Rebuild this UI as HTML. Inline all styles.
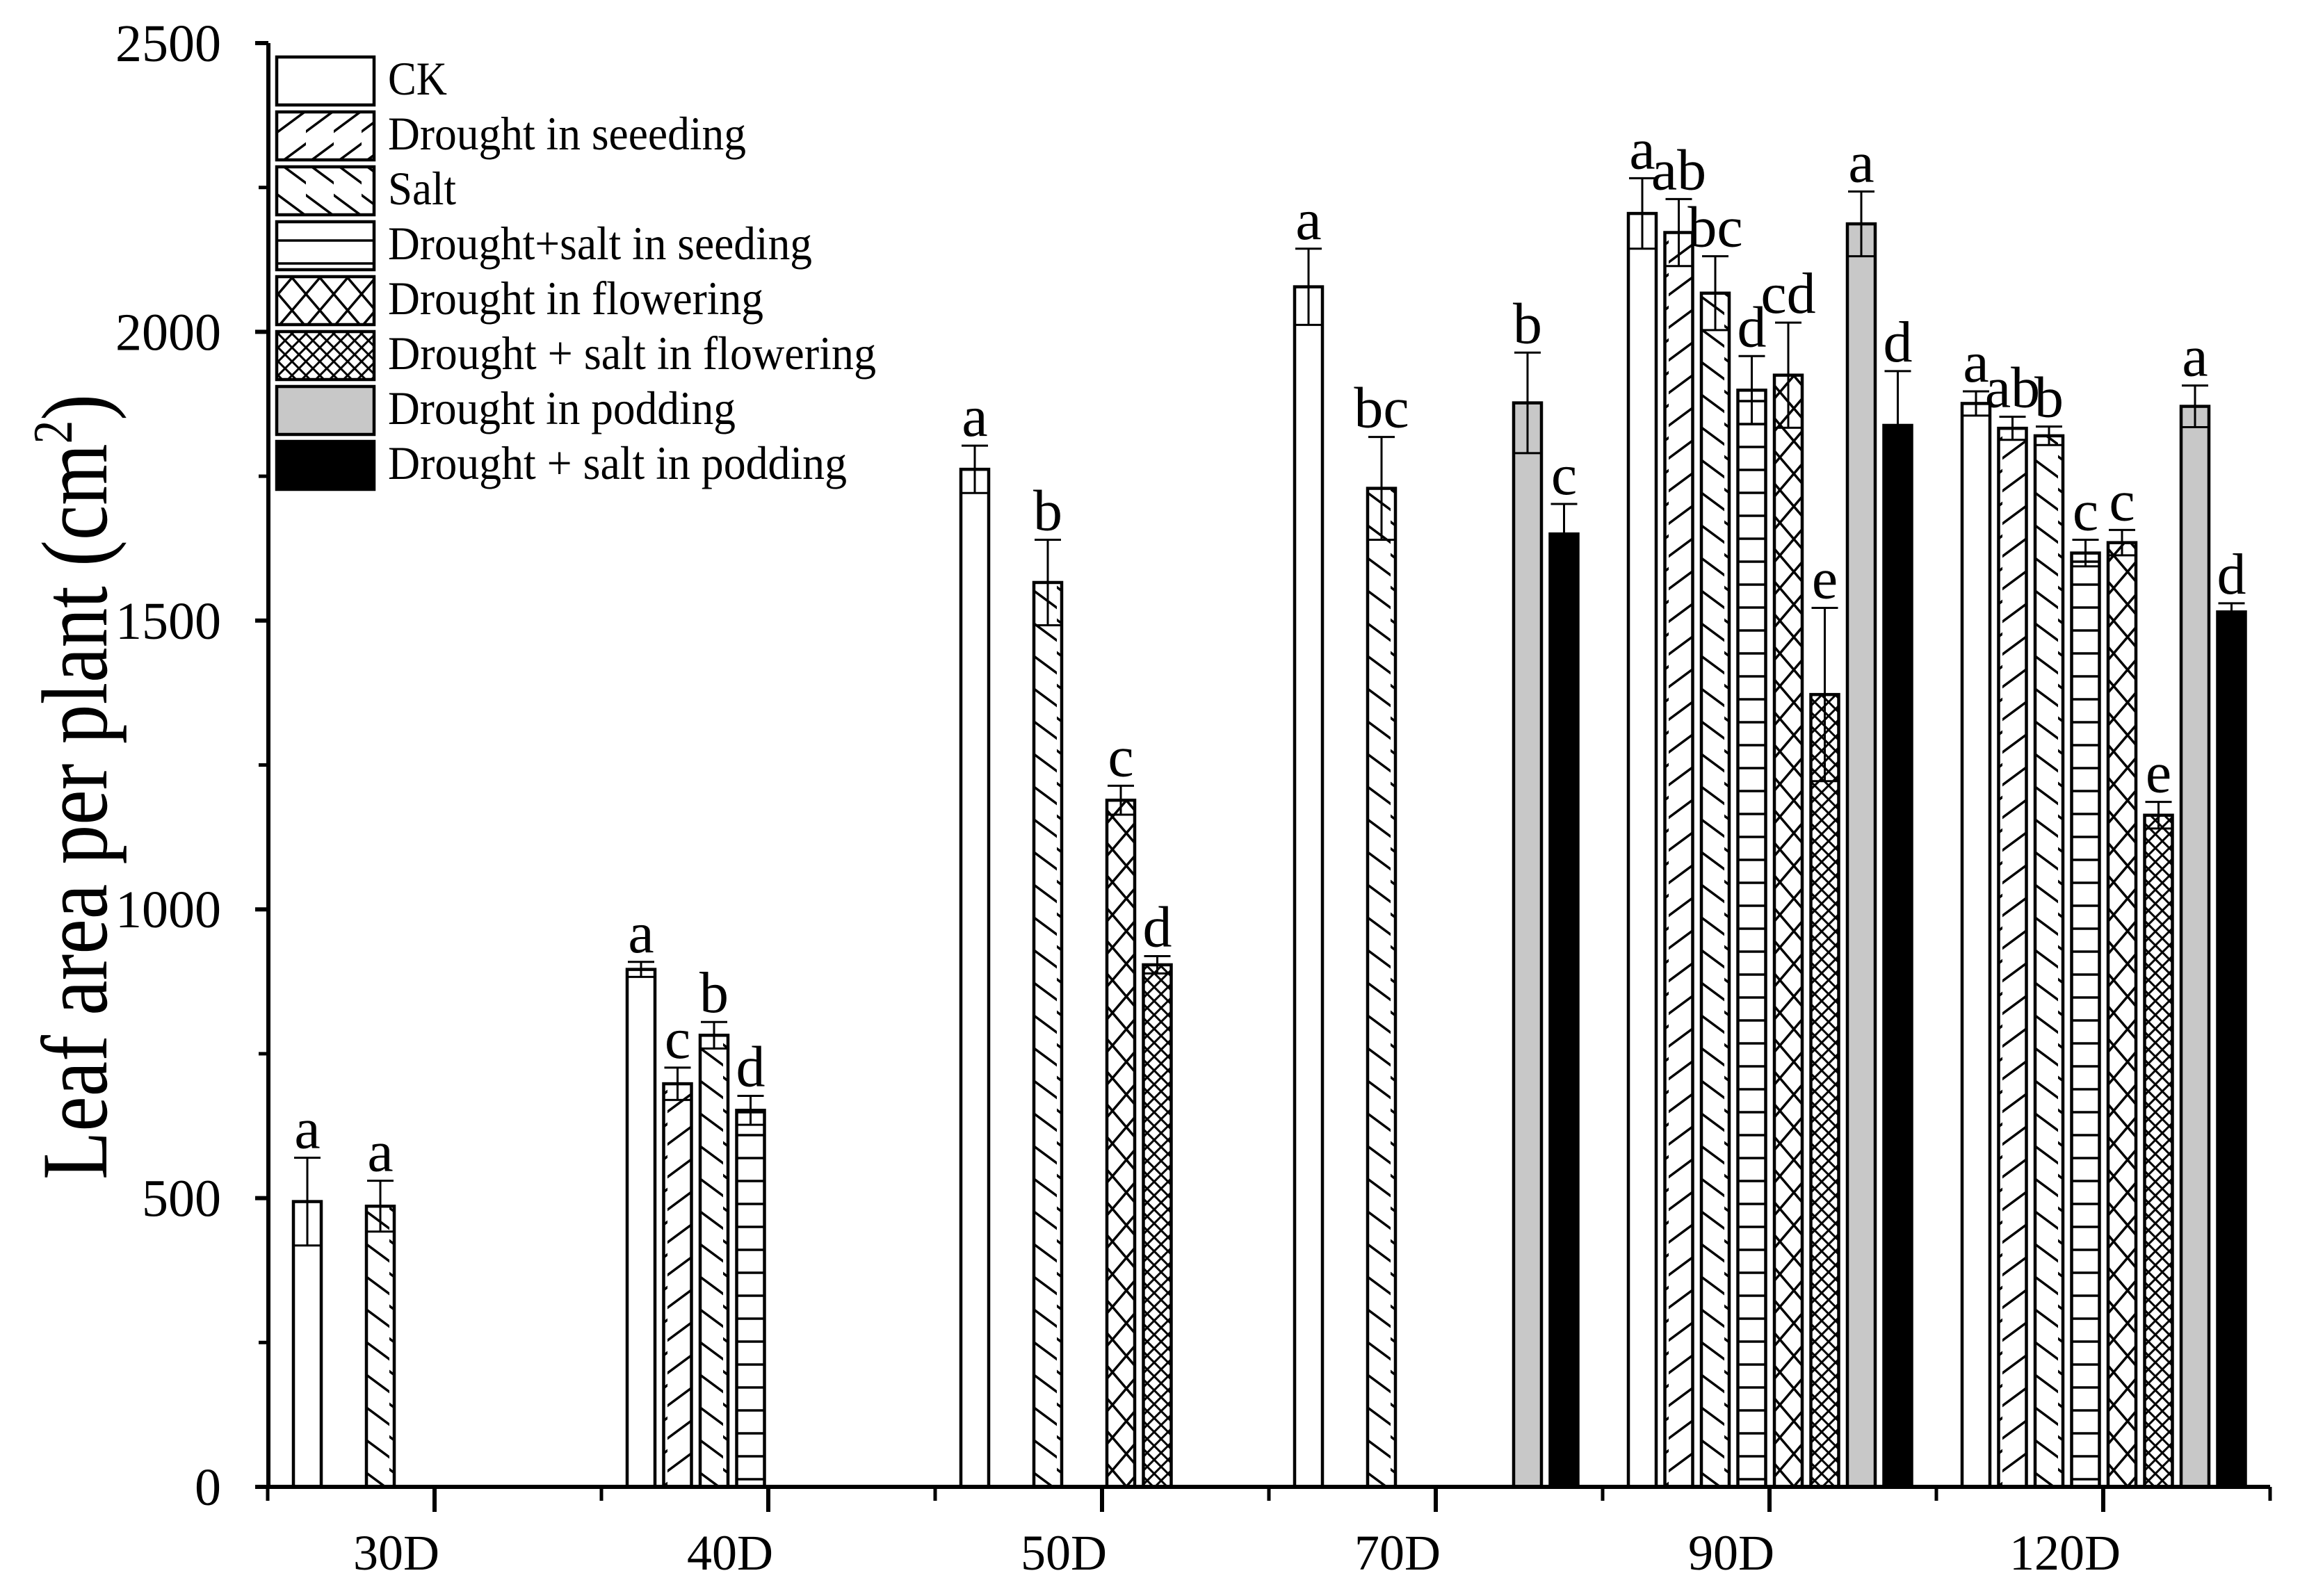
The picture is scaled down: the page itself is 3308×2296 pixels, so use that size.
<!DOCTYPE html>
<html><head><meta charset="utf-8"><style>
html,body{margin:0;padding:0;background:#fff;}
svg{display:block;font-family:"Liberation Serif",serif;}
</style></head><body>
<svg id="chart" width="3308" height="2296" viewBox="0 0 3308 2296" xmlns="http://www.w3.org/2000/svg">
<defs>
<pattern id="p1" patternUnits="userSpaceOnUse" width="40" height="47"><path d="M-5,52 L45,15 M-5,5 L45,-32 M-5,99 L45,62" stroke="#000" stroke-width="3.5" fill="none"/></pattern>
<pattern id="p2" patternUnits="userSpaceOnUse" width="40" height="47"><path d="M-5,-5 L45,32 M-5,42 L45,79 M-5,-52 L45,-15" stroke="#000" stroke-width="3.5" fill="none"/></pattern>
<pattern id="p3" patternUnits="userSpaceOnUse" width="40" height="33"><path d="M0,16 L40,16" stroke="#000" stroke-width="3.5"/></pattern>
<pattern id="p4" patternUnits="userSpaceOnUse" width="40" height="47"><path d="M0,0 L40,47 M40,0 L0,47" stroke="#000" stroke-width="3.5"/></pattern>
<pattern id="p5" patternUnits="userSpaceOnUse" width="20" height="20"><path d="M0,0 L20,20 M20,0 L0,20" stroke="#000" stroke-width="3"/></pattern>
</defs>
<g id="plot"></g>
<g id="legend"></g>
<text transform="translate(153,1132) rotate(-90)" text-anchor="middle" font-size="135" textLength="1130" lengthAdjust="spacingAndGlyphs">Leaf area per plant (cm<tspan font-size="80" dy="-50">2</tspan><tspan dy="50">)</tspan></text>
</svg>
<script>
const categories = ["30D","40D","50D","70D","90D","120D"];
const seriesNames = ["CK","Drought in seeeding","Salt","Drought+salt in seeding","Drought in flowering","Drought + salt in flowering","Drought in podding","Drought + salt in podding"];
// values per category, per series (null = no bar)
const values = [
 [494,null,486,null,null,null,null,null],
 [896,698,782,652,null,null,null,null],
 [1762,null,1566,null,1189,904,null,null],
 [2078,null,1729,null,null,null,1877,1650],
 [2205,2172,2067,1899,1925,1372,2187,1838],
 [1876,1833,1820,1617,1635,1163,1871,1515]
];
const errors = [
 [76,null,44,null,null,null,null,null],
 [13,28,23,25,null,null,null,null],
 [41,null,74,null,25,15,null,null],
 [66,null,89,null,null,null,87,52],
 [61,58,64,59,91,150,56,94],
 [21,20,16,23,22,23,36,15]
];
const letters = [
 ["a",null,"a",null,null,null,null,null],
 ["a","c","b","d",null,null,null,null],
 ["a",null,"b",null,"c","d",null,null],
 ["a",null,"bc",null,null,null,"b","c"],
 ["a","ab","bc","d","cd","e","a","d"],
 ["a","ab","b","c","c","e","a","d"]
];
const yTicks = [0,500,1000,1500,2000,2500];
const fills = ["#fff","url(#p1)","url(#p2)","url(#p3)","url(#p4)","url(#p5)","#c8c8c8","#000"];

const NS="http://www.w3.org/2000/svg";
const plot=document.getElementById('plot');
function y(v){return 2139-v*(2077/2500);}
function xc(i){return 625+480*i;}
function slotX(i,j){return xc(i)-203+52.5*j;}
function mk(tag,attrs,parent){const e=document.createElementNS(NS,tag);for(const k in attrs)e.setAttribute(k,attrs[k]);(parent||plot).appendChild(e);return e;}

values.forEach((row,i)=>{row.forEach((v,j)=>{
  if(v==null)return;
  const x=slotX(i,j),w=40;
  const r=mk('rect',{x:x,y:y(v),width:w,height:y(0)-y(v),fill:"#fff",stroke:"none"});
  
  
  const r2=mk('rect',{x:x,y:y(v),width:w,height:y(0)-y(v),fill:fills[j],stroke:"#000","stroke-width":4.5});
  
  
  const e=errors[i][j],cx=x+w/2;
  const eb=mk('path',{d:`M${cx},${y(v+e)} L${cx},${y(v-e)} M${cx-19},${y(v+e)} L${cx+19},${y(v+e)} M${x},${y(v-e)} L${x+w},${y(v-e)}`,stroke:"#000","stroke-width":3,fill:"none"});
  
  
  const t=mk('text',{x:cx,y:y(v+e)-14,"text-anchor":"middle","font-size":84});
  t.textContent=letters[i][j];
  
  
});});

const ax=mk('path',{d:`M386,${y(2500)} L386,${y(0)} M386,${y(0)} L3265,${y(0)}`,stroke:"#000","stroke-width":6,fill:"none"});


yTicks.forEach(v=>{
  const tk=mk('path',{d:`M367,${y(v)} L386,${y(v)}`,stroke:"#000","stroke-width":6});
  
  
  if(v<2500){
    const mn=mk('path',{d:`M372,${y(v+250)} L386,${y(v+250)}`,stroke:"#000","stroke-width":5});
    
    
  }
  const t=mk('text',{x:318,y:y(v)+26,"text-anchor":"end","font-size":76});
  t.textContent=v;
  
  
});
for(let i=0;i<=categories.length;i++){
  const tk=mk('path',{d:`M${xc(i)-240},${y(0)} L${xc(i)-240},${y(0)+20}`,stroke:"#000","stroke-width":5});
  
  
}
categories.forEach((c,i)=>{
  const tk=mk('path',{d:`M${xc(i)},${y(0)} L${xc(i)},${y(0)+36}`,stroke:"#000","stroke-width":6});
  
  
  const t=mk('text',{x:xc(i)-55,y:2258,"text-anchor":"middle","font-size":72});
  t.textContent=c;
  
  
});

const lg=document.getElementById('legend');
const lw=[85,515,98,610,540,702,500,660];
seriesNames.forEach((n,j)=>{
  const yy=82+79*j;
  const b=mk('rect',{x:398,y:yy,width:140,height:69,fill:"#fff"},lg);
  
  
  const s=mk('rect',{x:398,y:yy,width:140,height:69,fill:fills[j],stroke:"#000","stroke-width":4.5},lg);
  
  
  const t=mk('text',{x:558,y:yy+54,"font-size":68,textLength:lw[j],lengthAdjust:"spacingAndGlyphs"},lg);
  t.textContent=n;
  
  
});
</script>
</body></html>
